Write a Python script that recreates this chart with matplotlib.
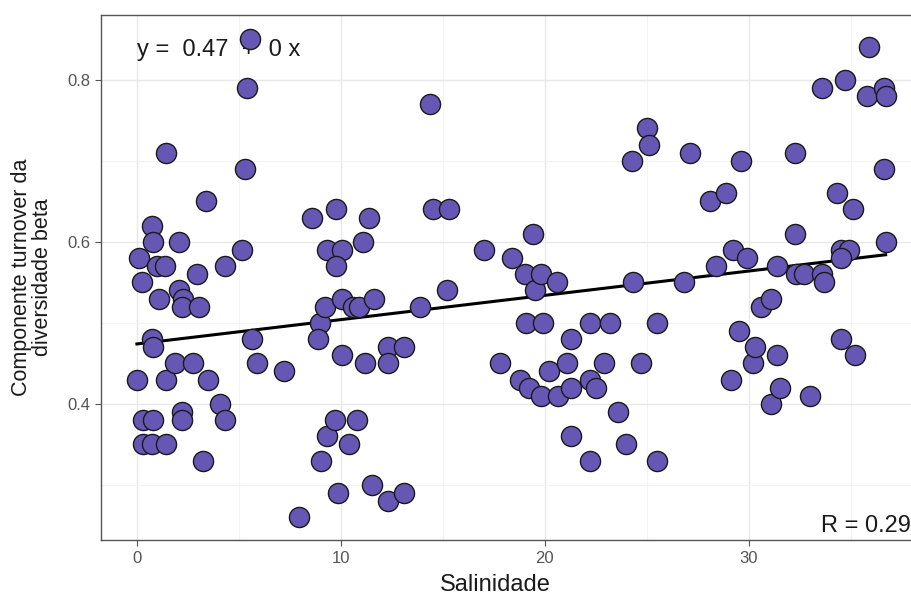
import numpy as np
import matplotlib
matplotlib.use("Agg")
import matplotlib.pyplot as plt
from matplotlib.ticker import MultipleLocator

plt.rcParams['font.family'] = ['Liberation Sans', 'DejaVu Sans']

# salinity (x) and turnover component (y)
salinidade = [
    0.0, 0.1, 0.23, 0.3, 0.3, 0.72, 0.77, 0.72, 0.78, 0.8, 0.72, 1.0, 1.4, 1.09,
    1.45, 1.45, 1.45, 1.86, 2.06, 2.06, 2.26, 2.2, 2.19, 2.19, 2.97, 3.04, 2.76,
    3.38, 3.24, 3.49, 4.07, 4.31, 4.31, 5.15, 5.29, 5.42, 5.54, 5.62, 5.9, 7.2,
    7.95,
    8.56, 8.97, 8.89, 9.2, 9.0, 9.3, 9.3, 9.75, 10.03, 9.75, 9.7, 9.84, 10.03,
    10.03, 10.4, 10.6, 10.9, 10.8, 11.1, 11.2, 11.4, 11.6, 11.5, 12.3, 12.3,
    12.3, 13.1, 13.1, 13.9, 14.36, 14.5, 15.3, 15.2,
    17.0, 17.8, 18.4, 18.8, 19.0, 19.07, 19.2, 19.4, 19.5, 19.8, 19.8, 19.9,
    20.2, 20.6, 20.65, 21.1, 21.3, 21.3, 21.3, 22.2, 22.2, 22.5, 22.2, 22.9,
    23.2, 23.6, 23.95, 24.25, 24.3, 24.7, 25.0, 25.1, 25.5, 25.5,
    26.8, 27.1, 28.1, 28.4, 28.9, 29.1, 29.2, 29.5, 29.6, 29.9, 30.2, 30.3,
    30.6, 31.1, 31.1, 31.4, 31.4, 31.5, 32.25, 32.25, 32.3, 32.7, 33.0, 33.56,
    33.6, 33.7, 34.3, 34.5, 34.9, 34.5, 34.5, 34.7, 35.1, 35.2, 35.8, 35.9,
    36.6, 36.7, 36.6, 36.7,
]
turnover = [
    0.43, 0.58, 0.55, 0.38, 0.35, 0.62, 0.60, 0.48, 0.47, 0.38, 0.35, 0.57, 0.57,
    0.53, 0.71, 0.43, 0.35, 0.45, 0.60, 0.54, 0.53, 0.52, 0.39, 0.38, 0.56, 0.52,
    0.45, 0.65, 0.33, 0.43, 0.40, 0.38, 0.57, 0.59, 0.69, 0.79, 0.85, 0.48, 0.45,
    0.44, 0.26,
    0.63, 0.50, 0.48, 0.52, 0.33, 0.36, 0.59, 0.64, 0.59, 0.57, 0.38, 0.29, 0.53,
    0.46, 0.35, 0.52, 0.52, 0.38, 0.60, 0.45, 0.63, 0.53, 0.30, 0.47, 0.45, 0.28,
    0.47, 0.29, 0.52, 0.77, 0.64, 0.64, 0.54,
    0.59, 0.45, 0.58, 0.43, 0.56, 0.50, 0.42, 0.61, 0.54, 0.56, 0.41, 0.50, 0.44,
    0.55, 0.41, 0.45, 0.48, 0.42, 0.36, 0.50, 0.43, 0.42, 0.33, 0.45, 0.50, 0.39,
    0.35, 0.70, 0.55, 0.45, 0.74, 0.72, 0.50, 0.33,
    0.55, 0.71, 0.65, 0.57, 0.66, 0.43, 0.59, 0.49, 0.70, 0.58, 0.45, 0.47, 0.52,
    0.53, 0.40, 0.57, 0.46, 0.42, 0.71, 0.61, 0.56, 0.56, 0.41, 0.79, 0.56, 0.55,
    0.66, 0.59, 0.59, 0.58, 0.48, 0.80, 0.64, 0.46, 0.78, 0.84, 0.79, 0.78, 0.69,
    0.60,
]

# regression line as drawn in the reference
fit_intercept = 0.474
fit_slope = 0.003
eq_label = "y =  0.47  +  0 x"
r_label = "R = 0.29"

x = np.array(salinidade)
y = np.array(turnover)

fig = plt.figure(figsize=(9.11, 5.97), dpi=100)
ax = fig.add_axes([101 / 911, 57 / 597, 814 / 911, 525 / 597])

xs = np.array([x.min(), x.max()])
ax.plot(xs, fit_intercept + fit_slope * xs, color="black", lw=2.2, zorder=3)
ax.scatter(x, y, s=210, color="#6757B4", edgecolor="#1a1a1a", linewidth=1.0,
           zorder=4)

ax.text(0, 0.837, eq_label, fontsize=17, va="center", ha="left",
        color="#1a1a1a", zorder=2)
# keep the whole R label inside the picture
ax.text(0.995, 0.249, r_label, fontsize=17, va="center", ha="right",
        color="#1a1a1a", transform=ax.get_yaxis_transform(), zorder=2)

ax.set_xlim(-1.76, 38.14)
ax.set_ylim(0.232, 0.880)
ax.xaxis.set_major_locator(MultipleLocator(10))
ax.xaxis.set_minor_locator(MultipleLocator(5))
ax.yaxis.set_major_locator(MultipleLocator(0.2))
ax.yaxis.set_minor_locator(MultipleLocator(0.1))
ax.yaxis.set_major_formatter(matplotlib.ticker.FormatStrFormatter("%.1f"))

ax.grid(which="major", color="#e8e8e8", lw=1.0, zorder=0)
ax.grid(which="minor", color="#f3f3f3", lw=0.8, zorder=0)
ax.set_axisbelow(True)
ax.tick_params(which="major", length=4, color="#555555", labelcolor="#555555",
               labelsize=12, pad=4)
ax.tick_params(which="minor", length=0)
for s in ax.spines.values():
    s.set_color("#555555")
    s.set_linewidth(1.0)

ax.set_xlabel("Salinidade", fontsize=17, color="#1a1a1a")
ax.xaxis.set_label_coords(0.484, -0.065)
ax.set_ylabel("Componente turnover da\ndiversidade beta", fontsize=15.5,
              color="#1a1a1a", linespacing=1.0, multialignment="center")
ax.yaxis.set_label_coords(-0.059, 0.5)

fig.savefig("out.png", dpi=100)
